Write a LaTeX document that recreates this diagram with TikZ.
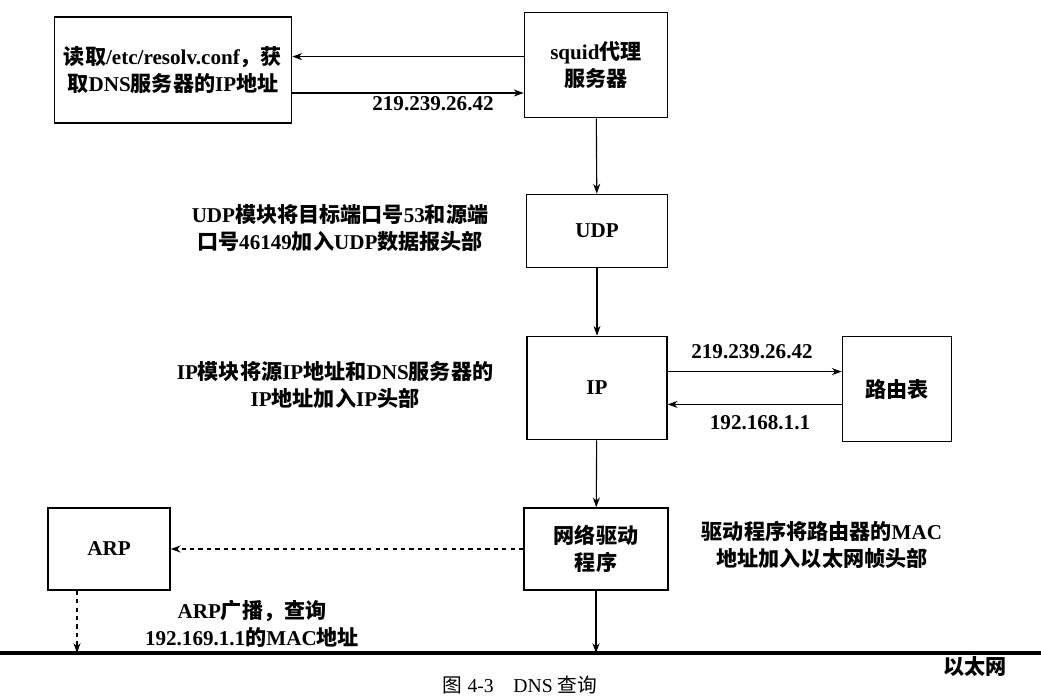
\documentclass[tikz,border=0pt]{standalone}
\usepackage{fontspec}
\setmainfont{Liberation Serif}
\newfontfamily\zhfont{Noto Sans CJK SC}
\newcommand{\zh}[1]{{\zhfont #1}}
\usetikzlibrary{arrows.meta,positioning}

\begin{document}
\begin{tikzpicture}[
x=0.025cm, y=-0.025cm,
every node/.style={font=\fontsize{15}{19}\selectfont\bfseries, align=center},
box/.style={rectangle, draw, line width=1pt, inner sep=2pt},
arrow/.style={-{Stealth[length=7pt,width=5pt]}, line width=0.8pt},
dasharrow/.style={arrow, dashed},
ether/.style={line width=3pt}
]

\useasboundingbox (0,0) rectangle (1041,699);

% Top row: resolver and squid proxy

\node[box, minimum width=5.93cm, minimum height=2.65cm] (resolv) at (173,70) {\zh{读取}/etc/resolv.conf\zh{，获}\\\zh{取}DNS\zh{服务器的}IP\zh{地址}};

\node[box, minimum width=3.58cm, minimum height=2.63cm] (squid) at (596,65) {squid\zh{代理}\\\zh{服务器}};

\draw[arrow] ([yshift=0.21cm]squid.west) -- ([yshift=0.21cm]squid.west -| resolv.east);
\draw[arrow] ([yshift=-0.7cm]squid.west -| resolv.east) -- ([yshift=-0.7cm]squid.west);

\node (addr1) at (433,104) {219.239.26.42};

% UDP layer

\node[box, minimum width=3.53cm, minimum height=1.83cm] (udp) at (597,231) {UDP};

\node (udpnote) at (340,228) {UDP\zh{模块将目标端口号}53\zh{和源端}\\\zh{口号}46149\zh{加入}UDP\zh{数据报头部}};

\draw[arrow] (squid) -- (udp);

% IP layer and routing table

\node[box, minimum width=3.5cm, minimum height=2.58cm] (ip) at (597,388) {IP};

\node[box, minimum width=2.73cm, minimum height=2.63cm] (route) at (897,389) {\zh{路由表}};

\node (ipnote) at (335,385) {IP\zh{模块将源}IP\zh{地址和}DNS\zh{服务器的}\\IP\zh{地址加入}IP\zh{头部}};

\draw[arrow] (udp) -- (ip);
\draw[arrow] ([yshift=0.41cm]ip.east) -- ([yshift=0.41cm]ip.east -| route.west);
\draw[arrow] ([yshift=-0.41cm]ip.east -| route.west) -- ([yshift=-0.41cm]ip.east);

\node (addr2) at (752,352) {219.239.26.42};
\node (addr3) at (760,423) {192.168.1.1};

% Driver and ARP

\node[box, minimum width=3.6cm, minimum height=2.05cm] (driver) at (596,549) {\zh{网络驱动}\\\zh{程序}};

\node[box, minimum width=3.05cm, minimum height=2.05cm] (arp) at (109,549) {ARP};

\node (drvnote) at (822,545) {\zh{驱动程序将路由器的}MAC\\\zh{地址加入以太网帧头部}};

\node (arpnote) at (252,624) {ARP\zh{广播，查询}\\192.169.1.1\zh{的}MAC\zh{地址}};

\draw[arrow] (ip) -- (driver);
\draw[dasharrow] (driver) -- (arp);

% Ethernet

\coordinate (ethL) at (0,653);
\coordinate (ethR) at (1041,653);
\draw[ether] (ethL) -- (ethR);

\draw[arrow] (driver) -- (driver |- ethL);
\draw[dasharrow] ([xshift=-0.8cm]arp.south) -- ([xshift=-0.8cm]arp.south |- ethL);

\node (ethname) at (975,667) {\zh{以太网}};

% Caption

\node[font=\fontsize{14}{17}\selectfont\mdseries] (caption) at (520,685) {\zh{图} 4-3\quad DNS \zh{查询}};

\end{tikzpicture}
\end{document}
